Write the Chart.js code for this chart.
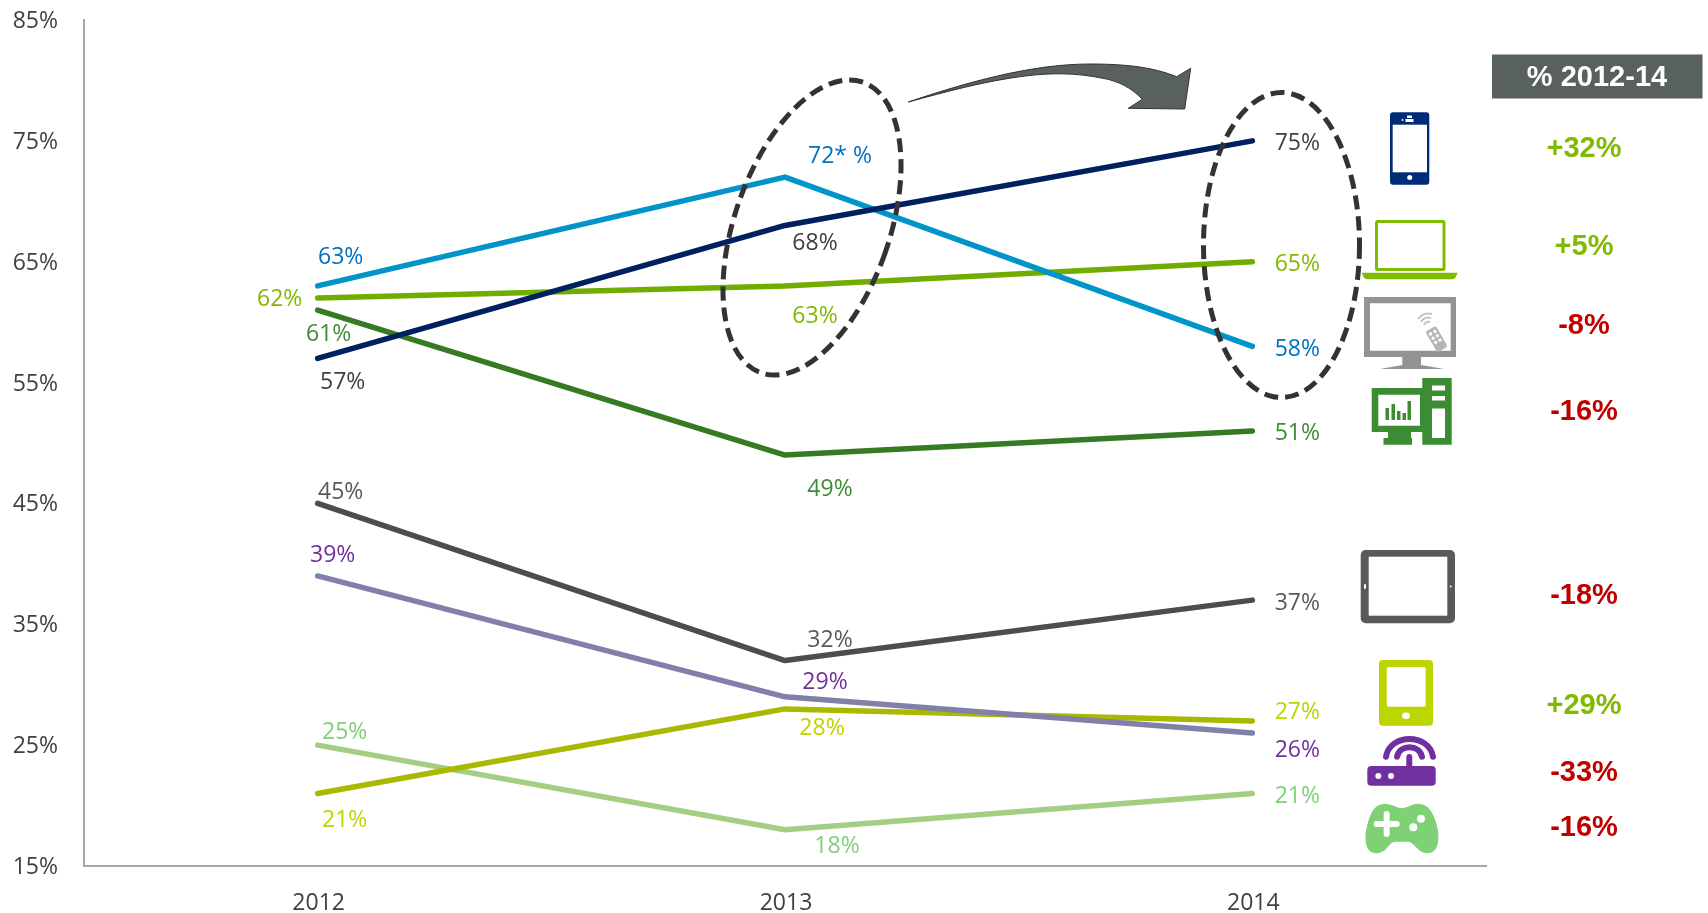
<!DOCTYPE html>
<html>
<head>
<meta charset="utf-8">
<title>Device usage 2012-2014</title>
<script src="https://cdn.jsdelivr.net/npm/chart.js@4"></script>
<style>
    html, body { margin: 0; padding: 0; background: #fff; }
    #wrap { position: relative; width: 1708px; height: 913px; overflow: hidden; }
    #chart { position: absolute; left: 0; top: 0; }
    #overlay { position: absolute; left: 0; top: 0; pointer-events: none; }
</style>
</head>
<body>
<div id="wrap">
    <canvas id="chart" width="1708" height="913"></canvas>
    <svg id="overlay" width="1708" height="913" viewBox="0 0 1708 913">
        <!-- dashed ellipses -->
        <g fill="none" stroke="#333" stroke-width="5" stroke-dasharray="14 7">
            <ellipse cx="812" cy="227.5" rx="77.4" ry="154" transform="rotate(19.3 812 227.5)"/>
            <ellipse cx="1281.5" cy="245" rx="78" ry="152.5"/>
        </g>
        <!-- arrow -->
        <path d="M908.3 102 C965 83 1030 64 1090 64 C1130 64 1155 68 1176.7 76.7 L1190.7 68.3 L1184.7 109 L1128.3 108.3 L1142.3 99.3 C1132 88 1118 81 1103 78.3 C1075 72.5 1050 73 1025 76 C985 81 945 92 908.3 102 Z" fill="#586060" stroke="#333" stroke-width="1"/>

        <!-- phone -->
        <rect x="1390" y="112.3" width="39.3" height="72.4" rx="3" fill="#002c77"/>
        <rect x="1392.7" y="124.7" width="34.3" height="47.6" fill="#fff"/>
        <circle cx="1409.7" cy="177.5" r="2.5" fill="#fff"/>
        <rect x="1405.5" y="119" width="8" height="3" fill="#fff"/>
        <rect x="1407" y="115.5" width="5" height="2.5" fill="#fff"/>
        <circle cx="1402.5" cy="120" r="1" fill="#fff"/>
        <!-- laptop -->
        <rect x="1376.5" y="221.5" width="67.5" height="48" fill="none" stroke="#7fbc00" stroke-width="3" rx="1"/>
        <path d="M1361.7 272.7 H1457.7 L1455.5 277.5 Q1454.5 279.3 1452 279.3 H1367 Q1364.9 279.3 1363.9 277.5 Z" fill="#7fbc00"/>
        <!-- tv -->
        <path fill-rule="evenodd" d="M1364 297 H1456 V357 H1364 Z M1370 303.3 V350.7 H1450.7 V303.3 Z" fill="#939393"/>
        <path d="M1402.3 357 H1421 V365 L1444 369 H1380 L1402.3 365 Z" fill="#939393"/>
        <g transform="rotate(-30 1437 340)">
            <rect x="1431" y="327" width="12" height="24" rx="2" fill="#b5b5b5"/>
            <g fill="#fff">
                <rect x="1433" y="330" width="3" height="3"/><rect x="1438" y="330" width="3" height="3"/>
                <rect x="1433" y="335" width="3" height="3"/><rect x="1438" y="335" width="3" height="3"/>
                <rect x="1433" y="340" width="3" height="3"/><rect x="1438" y="340" width="3" height="3"/>
            </g>
        </g>
        <g fill="none" stroke="#c4c4c4" stroke-width="2">
            <path d="M1421 322 A9 9 0 0 1 1431 318"/>
            <path d="M1418 319 A13 13 0 0 1 1432 314"/>
            <path d="M1424 325 A5 5 0 0 1 1430 322"/>
        </g>
        <!-- desktop -->
        <path fill-rule="evenodd" d="M1371.7 388 H1423 V432 H1411 V438 H1412 V444.7 H1383.5 V438 H1388 V432 H1371.7 Z M1378.3 394.7 V425.7 H1420 V394.7 Z" fill="#3c8c34"/>
        <path fill-rule="evenodd" d="M1422.3 378 H1451.7 V444.7 H1422.3 Z M1432 385.5 V390.5 H1445 V385.5 Z M1432 396 V400.5 H1445 V396 Z M1432 408.5 V438 H1445 V408.5 Z" fill="#3c8c34"/>
        <g fill="#3c8c34">
            <rect x="1385.5" y="408" width="3.5" height="12"/>
            <rect x="1391.5" y="404" width="3.5" height="16"/>
            <rect x="1397" y="411" width="3.5" height="9"/>
            <rect x="1402.5" y="413" width="3.5" height="7"/>
            <rect x="1407.5" y="401" width="3.5" height="19"/>
        </g>
        <!-- tablet -->
        <rect x="1360.7" y="550" width="94.3" height="73.3" rx="5" fill="#595959"/>
        <rect x="1368.7" y="556.7" width="78.6" height="59" fill="#fff"/>
        <rect x="1364" y="584" width="2" height="5" rx="1" fill="#fff"/>
        <circle cx="1450.7" cy="586.5" r="1" fill="#fff"/>
        <!-- small tablet -->
        <rect x="1379" y="660" width="54" height="65.7" rx="4" fill="#bdd500"/>
        <rect x="1386.7" y="667" width="39" height="39.7" rx="2" fill="#fff"/>
        <ellipse cx="1406" cy="715.7" rx="4" ry="3.2" fill="#fff"/>
        <!-- router -->
        <rect x="1367.3" y="766" width="68.4" height="19.7" rx="4" fill="#7030a0"/>
        <circle cx="1378.3" cy="776" r="3" fill="#fff"/>
        <circle cx="1391" cy="776" r="3" fill="#fff"/>
        <g fill="none" stroke="#7030a0" stroke-width="6" stroke-linecap="round">
            <path d="M1409.3 757 V766"/>
            <path d="M1386 756.7 C1390 733 1429 733 1433 756.7"/>
            <path d="M1397 756.7 C1400 744 1419 744 1422 756.7"/>
        </g>
        <!-- gamepad -->
        <path d="M1383.3 804 C1390 803 1396 808 1401.7 808.3 C1408 808 1413 803 1420 804 C1430 805 1434 815 1437 826 C1440 838 1439 853.3 1427.3 853.3 C1418 853.3 1414 841.7 1408 841.7 H1395 C1389 841.7 1387 853.3 1376 853.3 C1365 853.3 1364 838 1367 826 C1370 815 1373 805 1383.3 804 Z" fill="#7ed174"/>
        <path d="M1376.7 824 H1396.7 M1386.7 814 V834" stroke="#fff" stroke-width="6" stroke-linecap="round"/>
        <circle cx="1421" cy="818.7" r="4" fill="#fff"/>
        <circle cx="1413.3" cy="827.3" r="4" fill="#fff"/>
    </svg>
</div>
<script>
// Chart data
const years = ['2012', '2013', '2014'];
const yTicks = [15, 25, 35, 45, 55, 65, 75, 85];

const phoneValues = [57, 68, 75];
const laptopValues = [62, 63, 65];
const tvValues = [63, 72, 58];
const desktopValues = [61, 49, 51];
const tabletValues = [45, 32, 37];
const routerValues = [39, 29, 26];
const miniTabletValues = [21, 28, 27];
const consoleValues = [25, 18, 21];

const changeLabels = ['+32%', '+5%', '-8%', '-16%', '-18%', '+29%', '-33%', '-16%'];
const changeTitle = '% 2012-14';

const GREEN = '#7fba00';
const RED = '#c00000';
const changeY = [149, 247, 326, 412, 596, 706, 773, 828];

function series(data, color, labelColor, labelOffsets, labelTexts) {
    return { data, borderColor: color, labelColor, labelOffsets, labelTexts };
}

const datasets = [
    series(phoneValues, '#002060', '#404040', [[25, 24], [30, 18], [45, 3]]),
    series(tvValues, '#0094c8', '#0070c0', [[23, -28], [55, -21], [45, 3]], ['63%', '72* %', '58%']),
    series(laptopValues, '#70ad00', GREEN, [[-38, 1], [30, 31], [45, 3]]),
    series(desktopValues, '#367a23', '#3c8c34', [[11, 24], [45, 34], [45, 3]]),
    series(tabletValues, '#4d4d4d', '#595959', [[23, -11], [45, -20], [45, 3]]),
    series(routerValues, '#8080a8', '#7030a0', [[15, -20], [40, -14], [45, 17]]),
    series(miniTabletValues, '#a9b800', '#bdd500', [[27, 27], [37, 20], [45, -9]]),
    series(consoleValues, '#a4cf82', '#7ed174', [[27, -13], [52, 17], [45, 3]])
];

// Value labels next to each point, and the change column on the right
const annotations = {
    id: 'annotations',
    afterDatasetsDraw(chart) {
        const ctx = chart.ctx;
        ctx.save();
        ctx.textAlign = 'center';
        ctx.textBaseline = 'middle';
        ctx.font = '23px "Open Sans"';
        datasets.forEach(ds => {
            ds.data.forEach((v, i) => {
                const x = chart.scales.x.getPixelForValue(i);
                const y = chart.scales.y.getPixelForValue(v);
                const off = ds.labelOffsets[i];
                const text = ds.labelTexts ? ds.labelTexts[i] : v + '%';
                ctx.fillStyle = ds.labelColor;
                ctx.fillText(text, x + off[0], y + off[1]);
            });
        });

        ctx.fillStyle = '#586060';
        ctx.fillRect(1492, 54.5, 210.5, 44);
        ctx.fillStyle = '#fff';
        ctx.font = 'bold 29px "Liberation Sans"';
        ctx.fillText(changeTitle, 1597, 77.5);
        changeLabels.forEach((label, i) => {
            ctx.fillStyle = label[0] === '+' ? GREEN : RED;
            ctx.fillText(label, 1584, changeY[i]);
        });
        ctx.restore();
    }
};

new Chart(document.getElementById('chart'), {
    type: 'line',
    data: {
        labels: years,
        datasets: datasets.map(ds => ({
            data: ds.data,
            borderColor: ds.borderColor,
            borderWidth: 5.5,
            borderCapStyle: 'round',
            borderJoinStyle: 'round',
            pointRadius: 0,
            tension: 0,
            fill: false
        }))
    },
    options: {
        responsive: false,
        animation: false,
        layout: { padding: { top: 20, right: 222, left: 0, bottom: 0 } },
        plugins: { legend: { display: false }, tooltip: { enabled: false } },
        scales: {
            x: {
                offset: true,
                afterFit(scale) { scale.height = 47; },
                grid: { display: false },
                border: { color: '#a6a6a6', width: 2 },
                ticks: { color: '#404040', font: { family: '"Open Sans"', size: 23 }, padding: 16, labelOffset: 1 }
            },
            y: {
                min: 15,
                max: 85,
                afterFit(scale) {
                    scale.width = 84;
                    scale.paddingTop = 0;
                    scale.paddingBottom = 0;
                },
                afterBuildTicks(scale) { scale.ticks = yTicks.map(value => ({ value })); },
                grid: { display: false },
                border: { color: '#a6a6a6', width: 2 },
                ticks: {
                    color: '#404040',
                    font: { family: '"Open Sans"', size: 23 },
                    padding: 18,
                    labelOffset: 1.5,
                    callback: value => value + '%'
                }
            }
        }
    },
    plugins: [annotations]
});
</script>
</body>
</html>
